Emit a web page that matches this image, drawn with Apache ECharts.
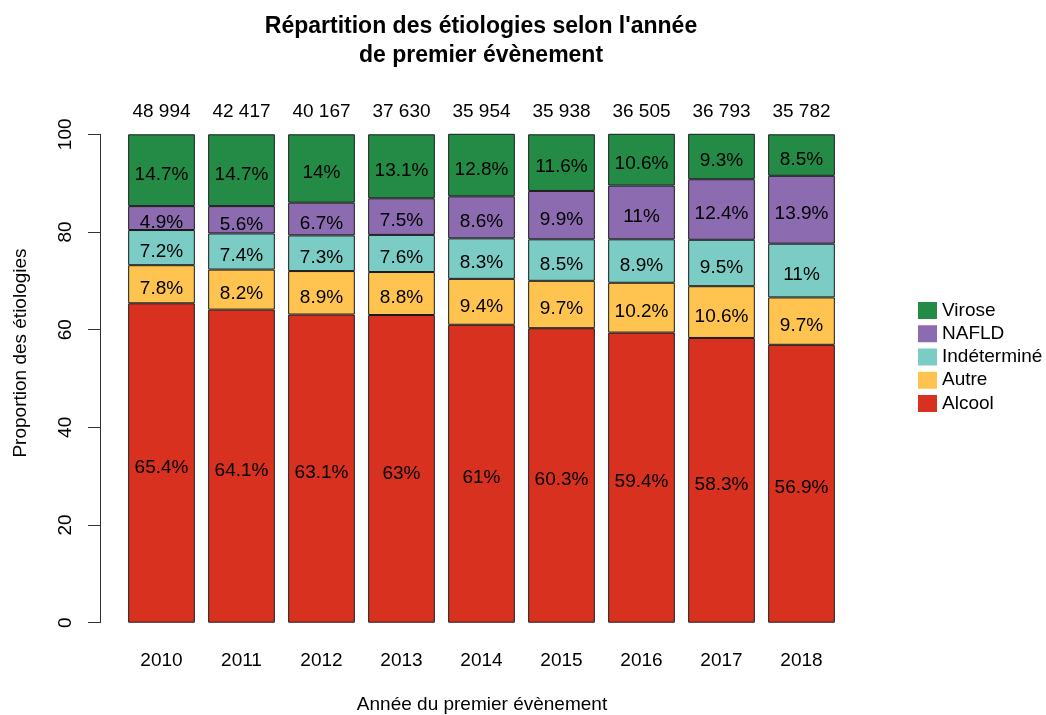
<!DOCTYPE html>
<html>
<head>
<meta charset="utf-8">
<script src="https://cdn.jsdelivr.net/npm/echarts@6/dist/echarts.min.js"></script>
<style>html,body{margin:0;padding:0;background:#fff}#c{width:1046px;height:715px}</style>
</head>
<body>
<div id="c"></div>
<script>
const years = ['2010','2011','2012','2013','2014','2015','2016','2017','2018'];
const counts = [48994, 42417, 40167, 37630, 35954, 35938, 36505, 36793, 35782];
const alcool = [65.4, 64.1, 63.1, 63, 61, 60.3, 59.4, 58.3, 56.9];
const autre = [7.8, 8.2, 8.9, 8.8, 9.4, 9.7, 10.2, 10.6, 9.7];
const indetermine = [7.2, 7.4, 7.3, 7.6, 8.3, 8.5, 8.9, 9.5, 11];
const nafld = [4.9, 5.6, 6.7, 7.5, 8.6, 9.9, 11, 12.4, 13.9];
const virose = [14.7, 14.7, 14, 13.1, 12.8, 11.6, 10.6, 9.3, 8.5];
const yTicks = [0, 20, 40, 60, 80, 100];

const FONT = 'Liberation Sans, Arial, Helvetica, sans-serif';
const FS = 19;
function fmtCount(n) { return String(n).replace(/\B(?=(\d{3})+(?!\d))/g, ' '); }

function mk(name, data, color) {
  return {
    name: name, type: 'bar', stack: 'total', data: data,
    barCategoryGap: '16.67%',
    itemStyle: { color: color, borderColor: '#1a1a1a', borderWidth: 1 },
    label: { show: true, position: 'inside', offset: [0, 4.5], formatter: p => p.value + '%',
      color: '#000', fontSize: FS, fontFamily: FONT },
    emphasis: { disabled: true }
  };
}

const chart = echarts.init(document.getElementById('c'));
chart.setOption({
  backgroundColor: '#fff',
  animation: false,
  textStyle: { fontFamily: FONT },
  grid: { left: 121.5, right: 204.5, top: 134.3, bottom: 92.3 },
  legend: {
    data: ['Virose', 'NAFLD', 'Indéterminé', 'Autre', 'Alcool'],
    orient: 'vertical', left: 918, top: 301, padding: 0,
    itemWidth: 19, itemHeight: 17, itemGap: 4.25,
    icon: 'rect',
    textStyle: { fontSize: FS, color: '#000', fontFamily: FONT },
    itemStyle: { borderWidth: 0 },
    selectedMode: false
  },
  xAxis: [
    { type: 'category', data: years, position: 'bottom',
      axisLine: { show: false }, axisTick: { show: false },
      axisLabel: { color: '#000', fontSize: FS, margin: 28.5, fontFamily: FONT } },
    { type: 'category', data: counts.map(fmtCount), position: 'top',
      axisLine: { show: false }, axisTick: { show: false },
      axisLabel: { color: '#000', fontSize: FS, margin: 13, fontFamily: FONT } }
  ],
  yAxis: {
    type: 'value', min: yTicks[0], max: yTicks[yTicks.length - 1], interval: 20,
    offset: 21.5,
    axisLine: { show: true, lineStyle: { color: '#333', width: 1 } },
    axisTick: { show: true, length: 12, lineStyle: { color: '#333' } },
    axisLabel: { rotate: 90, color: '#000', fontSize: FS, margin: 25, fontFamily: FONT },
    splitLine: { show: false }
  },
  graphic: [
    { type: 'text', x: 481, y: 41.5,
      style: { text: "Répartition des étiologies selon l'année\nde premier évènement",
        fontSize: 23, fontWeight: 'bold', lineHeight: 29, fill: '#000',
        fontFamily: FONT, textAlign: 'center', textVerticalAlign: 'middle' } },
    { type: 'text', x: 21, y: 353, rotation: Math.PI / 2,
      style: { text: 'Proportion des étiologies', fontSize: FS, fill: '#000',
        fontFamily: FONT, textAlign: 'center', textVerticalAlign: 'middle' } },
    { type: 'text', x: 482, y: 705,
      style: { text: 'Année du premier évènement', fontSize: FS, fill: '#000',
        fontFamily: FONT, textAlign: 'center', textVerticalAlign: 'middle' } }
  ],
  series: [
    mk('Alcool', alcool, '#D9311F'),
    mk('Autre', autre, '#FEC44F'),
    mk('Indéterminé', indetermine, '#7BCCC4'),
    mk('NAFLD', nafld, '#8C6BB1'),
    mk('Virose', virose, '#238B45')
  ]
});
</script>
</body>
</html>
